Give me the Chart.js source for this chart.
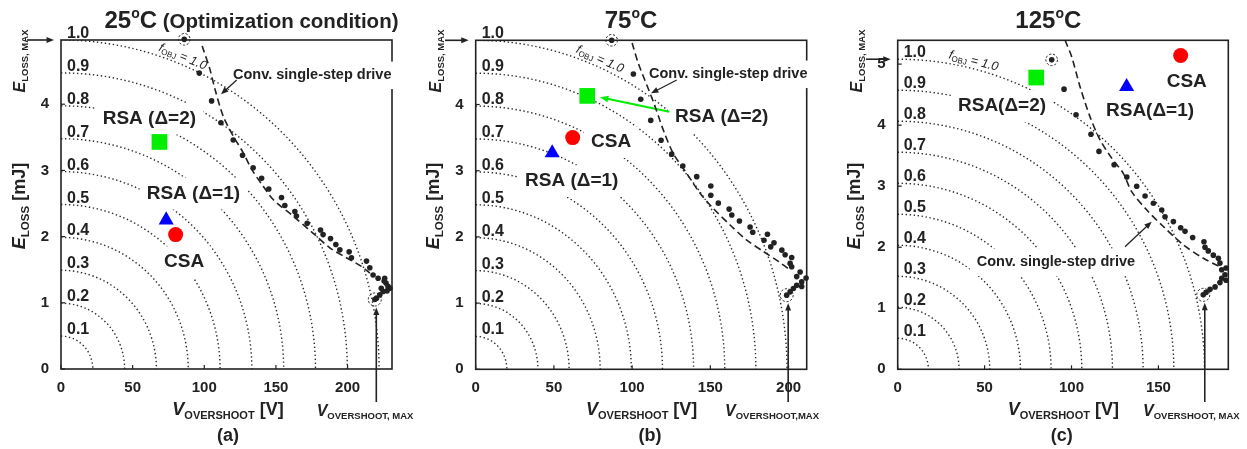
<!DOCTYPE html>
<html>
<head>
<meta charset="utf-8">
<script src="https://cdn.jsdelivr.net/npm/chart.js@4.4.1/dist/chart.umd.min.js"></script>
<style>
  body { margin: 0; background: #fff; }
  canvas { position: absolute; top: 0; }
</style>
</head>
<body>
<canvas id="pa" width="415" height="449" style="left:0px"></canvas>
<canvas id="pb" width="415" height="449" style="left:415px"></canvas>
<canvas id="pc" width="417" height="449" style="left:830px"></canvas>
<script>
// ---------------- data ----------------
const temps = ['25', '75', '125'];
const xMax = [231, 211.6, 190.2];        // V axis range
const yMax = [4.97, 4.97, 5.39];         // mJ axis range
const vMaxRef = [222, 199, 176.5];       // V_OVERSHOOT,MAX
const eMaxRef = [4.97, 4.97, 5.08];      // E_LOSS,MAX
const fLevels = [0.1, 0.2, 0.3, 0.4, 0.5, 0.6, 0.7, 0.8, 0.9, 1.0];

// conventional single-step drive, measured points
const dotsVA = [86, 96.5, 105.1, 111.6, 120.2, 126.7, 134.1, 140, 145, 153.9, 156.2, 163.2, 164.3, 171.8, 181.1, 182.9, 188.1, 191.8, 194.6, 201.1, 202.7, 213.2, 215.5, 217.8, 221.3, 225.9, 228.2, 229.5, 226.8, 225.5, 223.5, 227.5, 224.8, 222.5, 220.2, 219];
const dotsEA = [4.98, 4.47, 4.05, 3.72, 3.46, 3.23, 3.04, 2.88, 2.72, 2.59, 2.47, 2.38, 2.31, 2.20, 2.10, 2.03, 1.97, 1.88, 1.80, 1.77, 1.68, 1.63, 1.53, 1.42, 1.37, 1.37, 1.25, 1.22, 1.30, 1.33, 1.22, 1.18, 1.17, 1.12, 1.07, 1.05];
const dotsVB = [86.9, 100.8, 105.5, 111.9, 118.5, 125.3, 132.4, 141.3, 150.3, 150.3, 155.1, 162, 163.7, 168.6, 175.4, 177.1, 186.5, 184.3, 190.7, 188.6, 195.7, 197.8, 202, 201, 202, 207.4, 205.2, 211.2, 208.4, 208.4, 205.2, 203.1, 201, 198.8];
const dotsEB = [4.97, 4.46, 4.08, 3.76, 3.46, 3.25, 3.07, 2.91, 2.77, 2.63, 2.51, 2.42, 2.33, 2.24, 2.15, 2.07, 2.04, 1.95, 1.91, 1.85, 1.80, 1.73, 1.69, 1.60, 1.55, 1.47, 1.40, 1.38, 1.32, 1.25, 1.27, 1.22, 1.17, 1.12];
const dotsVC = [88.6, 95.7, 102.6, 111.2, 115.8, 124.5, 131.8, 137.5, 142.3, 147.1, 151.9, 153.8, 158.6, 162.8, 165.3, 169.7, 176.2, 176.8, 178.7, 181.6, 184.5, 185.4, 188.9, 186.4, 188.3, 186.4, 188.9, 185.4, 182.6, 179.7, 177.4, 175.8];
const dotsEC = [5.07, 4.59, 4.17, 3.85, 3.57, 3.35, 3.15, 3.00, 2.84, 2.72, 2.61, 2.50, 2.42, 2.32, 2.26, 2.16, 2.09, 2.00, 1.94, 1.87, 1.82, 1.74, 1.66, 1.63, 1.55, 1.49, 1.46, 1.42, 1.35, 1.31, 1.26, 1.22];

// dashed trend of the conventional drive
const dashVA = [98.5, 103.9, 107.4, 113.2, 120.2, 127.1, 133, 141.1, 148.1, 162, 176, 187.6, 199.2, 209.7, 215.5];
const dashEA = [4.88, 4.53, 4.23, 3.82, 3.52, 3.27, 3.02, 2.76, 2.56, 2.31, 2.05, 1.83, 1.68, 1.55, 1.45];
const dashVB = [100, 104, 113.6, 120, 126.3, 134.9, 143.4, 151.9, 162.6, 173.3, 183.9, 193.5, 201];
const dashEB = [4.93, 4.62, 4.04, 3.61, 3.26, 2.96, 2.66, 2.43, 2.18, 1.95, 1.78, 1.63, 1.50];
const dashVC = [96.3, 100.1, 104.9, 110.6, 116.4, 123.1, 129.8, 134.6, 143.3, 152.8, 164.3, 175.8, 185.4];
const dashEC = [5.39, 5.12, 4.63, 4.14, 3.76, 3.46, 3.21, 2.91, 2.61, 2.34, 2.04, 1.82, 1.68];

// proposed methods [V, E] for panels a, b, c
const csaPts = [[80, 2.03], [62, 3.50], [162.8, 5.14]];
const rsa1Pts = [[73.4, 2.25], [48.9, 3.27], [131.7, 4.63]];
const rsa2Pts = [[68.7, 3.43], [71.3, 4.13], [79.7, 4.78]];

// circled points: E_LOSS,MAX point and V_OVERSHOOT,MAX point
const circledPts = [[[86, 4.98], [219, 1.05]], [[86.9, 4.97], [198.8, 1.12]], [[88.6, 5.07], [175.8, 1.22]]];
const fLabelV = [83, 77.4, 42.6];

// ---------------- layout ----------------
const FONT = "'Liberation Sans', Arial, Helvetica, sans-serif";
const INK = '#222';
const ids = ['pa', 'pb', 'pc'];
const lefts = [0, 415, 830];
const widths = [415, 415, 417];
const areaL = [61, 475.7, 897.7], areaR = [392, 806.7, 1228.3];
const areaT = [40, 40.3, 40.3], areaB = [369, 369.3, 369.3];

const b = s => `bold ${s}px ${FONT}`;
const bi = s => `italic bold ${s}px ${FONT}`;
const it = s => `italic ${s}px ${FONT}`;

function richWidth(ctx, parts) {
  let w = 0;
  for (const p of parts) { ctx.font = p[1]; w += ctx.measureText(p[0]).width; }
  return w;
}
function rich(ctx, parts, x, y, align) {
  const w = richWidth(ctx, parts);
  let cx = align === 'center' ? x - w / 2 : (align === 'right' ? x - w : x);
  ctx.textAlign = 'left';
  ctx.textBaseline = 'alphabetic';
  for (const p of parts) {
    ctx.font = p[1];
    ctx.fillText(p[0], cx, y + (p[2] || 0));
    cx += ctx.measureText(p[0]).width;
  }
  return w;
}
function arrow(ctx, x1, y1, x2, y2, color, lw, head) {
  const a = Math.atan2(y2 - y1, x2 - x1);
  ctx.save();
  ctx.strokeStyle = color; ctx.fillStyle = color; ctx.lineWidth = lw; ctx.setLineDash([]);
  ctx.beginPath(); ctx.moveTo(x1, y1);
  ctx.lineTo(x2 - head * 0.7 * Math.cos(a), y2 - head * 0.7 * Math.sin(a)); ctx.stroke();
  ctx.beginPath(); ctx.moveTo(x2, y2);
  ctx.lineTo(x2 - head * Math.cos(a - 0.38), y2 - head * Math.sin(a - 0.38));
  ctx.lineTo(x2 - head * Math.cos(a + 0.38), y2 - head * Math.sin(a + 0.38));
  ctx.closePath(); ctx.fill();
  ctx.restore();
}
// labels that break the dotted contours (white box behind), page coords
function boxLabel(ctx, text, size, x, y) {
  ctx.font = b(size);
  const w = ctx.measureText(text).width, pad = 7;
  ctx.fillStyle = '#fff';
  ctx.fillRect(x - pad, y - 0.72 * size - pad, w + 2 * pad, 0.93 * size + 2 * pad);
  ctx.fillStyle = INK;
  ctx.textAlign = 'left'; ctx.textBaseline = 'alphabetic';
  ctx.fillText(text, x, y);
}

const labels = [
  [['Conv. single-step drive', 14.5, 233, 79], ['RSA (\u0394=2)', 19, 102.7, 123.5], ['RSA (\u0394=1)', 19, 146.7, 198.5], ['CSA', 19, 164, 267]],
  [['Conv. single-step drive', 14.5, 649, 78], ['RSA (\u0394=2)', 19, 675, 122], ['CSA', 19, 591, 147], ['RSA (\u0394=1)', 19, 525, 186]],
  [['Conv. single-step drive', 14.5, 976.7, 266], ['RSA(\u0394=2)', 19, 958, 111], ['RSA(\u0394=1)', 19, 1106, 116], ['CSA', 19, 1166.7, 87]]
];
const convArrows = [[236.7, 80, 221, 94.3], [676.7, 80, 651, 93.3], [1125, 246.7, 1151.7, 221.7]];
const titleX = [251.5, 631, 1048.3];
const yTitleX = [25, 438.5, 860];
const eMaxLabelX = [25, 441, 861.7];
const eMaxArrowX = [27, 445, 866];
const xTitleX = [228, 641.7, 1063.3];
const letterX = [228, 650, 1061.7];
const vMaxLabelX = [316.7, 725, 1143];
const vMaxSub = ['OVERSHOOT, MAX', 'OVERSHOOT,MAX', 'OVERSHOOT, MAX'];

function decor(i) {
  const L = lefts[i];
  return {
    id: 'decor' + i,
    beforeDatasetsDraw(chart) {
      const ctx = chart.ctx, a = chart.chartArea, xs = chart.scales.x, ys = chart.scales.y;
      const X = v => xs.getPixelForValue(v), Y = e => ys.getPixelForValue(e);
      const x0 = X(0), y0 = Y(0);
      // f_OBJ contours
      ctx.save();
      ctx.beginPath(); ctx.rect(a.left, a.top, a.right - a.left, a.bottom - a.top); ctx.clip();
      ctx.strokeStyle = '#2a2a2a'; ctx.lineWidth = 1.4; ctx.setLineDash([1.4, 2.6]);
      fLevels.forEach(f => {
        const rx = X(f * vMaxRef[i]) - x0, ry = y0 - Y(f * eMaxRef[i]);
        ctx.beginPath(); ctx.ellipse(x0, y0, rx, ry, 0, -Math.PI / 2, 0); ctx.stroke();
      });
      ctx.restore();
      // frame + inward ticks
      ctx.save();
      ctx.strokeStyle = INK; ctx.lineWidth = 1.6;
      ctx.strokeRect(a.left, a.top, a.right - a.left, a.bottom - a.top);
      ctx.lineWidth = 1.2;
      xs.ticks.forEach(t => { const p = X(t.value); ctx.beginPath(); ctx.moveTo(p, a.bottom); ctx.lineTo(p, a.bottom - 4); ctx.stroke(); });
      ys.ticks.forEach(t => { const p = Y(t.value); ctx.beginPath(); ctx.moveTo(a.left, p); ctx.lineTo(a.left + 4, p); ctx.stroke(); });
      // contour values
      ctx.fillStyle = INK; ctx.font = b(16); ctx.textAlign = 'left'; ctx.textBaseline = 'alphabetic';
      fLevels.forEach(f => ctx.fillText(f.toFixed(1), a.left + 6, Y(f * eMaxRef[i]) - 2));
      // f_OBJ = 1.0 along the outer contour
      const rx = X(vMaxRef[i]) - x0, ry = y0 - Y(eMaxRef[i]);
      const c = fLabelV[i] / vMaxRef[i], s = Math.sqrt(1 - c * c);
      const px = x0 + rx * c, py = y0 - ry * s;
      const ang = Math.atan2(ry * c, rx * s);
      const nl = Math.hypot(ry * c, rx * s);
      ctx.save();
      ctx.translate(px + 8 * (ry * c) / nl, py - 8 * (rx * s) / nl);
      ctx.rotate(ang);
      rich(ctx, [['f', it(12.5)], ['OBJ', `${8}px ${FONT}`, 2], [' = 1.0', it(12.5)]], 0, 4, 'center');
      ctx.restore();
      ctx.restore();

      // annotations in page coordinates
      ctx.save();
      ctx.translate(-L, 0);
      labels[i].forEach(l => boxLabel(ctx, l[0], l[1], l[2], l[3]));
      const ca = convArrows[i];
      arrow(ctx, ca[0], ca[1], ca[2], ca[3], INK, 1.3, 8);
      if (i === 1) arrow(ctx, 669.3, 111.7, 600, 97.3, '#00ee00', 2, 9);
      ctx.restore();
    },
    afterDatasetsDraw(chart) {
      const ctx = chart.ctx, xs = chart.scales.x, ys = chart.scales.y, a = chart.chartArea;
      ctx.save();
      ctx.strokeStyle = INK; ctx.lineWidth = 1; ctx.setLineDash([2.2, 1.8]);
      circledPts[i].forEach((p, k) => {
        ctx.beginPath();
        ctx.arc(xs.getPixelForValue(p[0]), ys.getPixelForValue(p[1]), k ? 6.5 : 5.8, 0, Math.PI * 2);
        ctx.stroke();
      });
      ctx.restore();
      // V_OVERSHOOT,MAX and E_LOSS,MAX arrows
      const vx = xs.getPixelForValue(circledPts[i][1][0]) + 1.5;
      const vy = ys.getPixelForValue(circledPts[i][1][1]) + 8;
      arrow(ctx, vx, 402, vx, vy, INK, 1.6, 8);
      const ey = ys.getPixelForValue(eMaxRef[i]);
      arrow(ctx, eMaxArrowX[i] - L, ey, a.left - 7, ey, INK, 1.6, 8);
    },
    afterDraw(chart) {
      const ctx = chart.ctx;
      ctx.save();
      ctx.translate(-L, 0);
      ctx.fillStyle = INK;
      const tParts = [[temps[i], b(24)], ['o', b(14), -10], ['C', b(24)]];
      if (i === 0) tParts.push([' (Optimization condition)', b(20.5)]);
      rich(ctx, tParts, titleX[i], 28, 'center');
      rich(ctx, [['V', bi(18)], ['OVERSHOOT', b(11), 4], [' [V]', b(18)]], xTitleX[i], 415, 'center');
      ctx.font = b(18); ctx.textAlign = 'center';
      ctx.fillText(['(a)', '(b)', '(c)'][i], letterX[i], 441);
      rich(ctx, [['V', bi(16)], [vMaxSub[i], b(9.5), 3]], vMaxLabelX[i], 416, 'left');
      ctx.save();
      ctx.translate(yTitleX[i], 206); ctx.rotate(-Math.PI / 2);
      rich(ctx, [['E', bi(18)], ['LOSS', b(11.5), 4], [' [mJ]', b(18)]], 0, 0, 'center');
      ctx.restore();
      ctx.save();
      ctx.translate(eMaxLabelX[i], 61); ctx.rotate(-Math.PI / 2);
      rich(ctx, [['E', bi(16)], ['LOSS, MAX', b(9.5), 3]], 0, 0, 'center');
      ctx.restore();
      ctx.restore();
    }
  };
}

const dotsV = [dotsVA, dotsVB, dotsVC], dotsE = [dotsEA, dotsEB, dotsEC];
const dashV = [dashVA, dashVB, dashVC], dashE = [dashEA, dashEB, dashEC];
const tickFont = { family: FONT, size: 15, weight: 'bold' };

function makePanel(i) {
  const pts = (vs, es) => vs.map((v, k) => ({ x: v, y: es[k] }));
  new Chart(document.getElementById(ids[i]), {
    type: 'scatter',
    data: {
      datasets: [
        { label: 'RSA (\u0394=2)', data: [{ x: rsa2Pts[i][0], y: rsa2Pts[i][1] }], pointStyle: 'rect', pointRadius: 11.1, backgroundColor: '#00ee00', borderWidth: 0, clip: false },
        { label: 'RSA (\u0394=1)', data: [{ x: rsa1Pts[i][0], y: rsa1Pts[i][1] }], pointStyle: 'triangle', pointRadius: 8.7, backgroundColor: '#0000ff', borderWidth: 0, clip: false },
        { label: 'CSA', data: [{ x: csaPts[i][0], y: csaPts[i][1] }], pointStyle: 'circle', pointRadius: 7.5, backgroundColor: '#ff0000', borderWidth: 0, clip: false },
        { label: 'Conv. measured', data: pts(dotsV[i], dotsE[i]), pointRadius: 2.8, backgroundColor: INK, borderWidth: 0, clip: 8 },
        { label: 'Conv. single-step drive', data: pts(dashV[i], dashE[i]), showLine: true, pointRadius: 0, borderColor: INK, borderWidth: 1.6, borderDash: [7, 4], tension: 0.3 }
      ]
    },
    options: {
      responsive: false, animation: false, devicePixelRatio: 1, events: [],
      layout: { padding: { left: 0, top: areaT[i], right: widths[i] - (areaR[i] - lefts[i]), bottom: 0 } },
      plugins: { legend: { display: false }, tooltip: { enabled: false } },
      scales: {
        x: {
          type: 'linear', min: 0, max: xMax[i],
          ticks: { stepSize: 50, includeBounds: false, font: tickFont, color: INK, padding: 10, maxRotation: 0, autoSkip: false },
          grid: { display: false, drawTicks: false }, border: { display: false },
          afterFit: s => { s.height = 449 - areaB[i]; }
        },
        y: {
          type: 'linear', min: 0, max: yMax[i],
          ticks: { stepSize: 1, includeBounds: false, font: tickFont, color: INK, padding: 12 },
          grid: { display: false, drawTicks: false }, border: { display: false },
          afterFit: s => { s.width = areaL[i] - lefts[i]; }
        }
      }
    },
    plugins: [decor(i)]
  });
}
[0, 1, 2].forEach(makePanel);
</script>
</body>
</html>
